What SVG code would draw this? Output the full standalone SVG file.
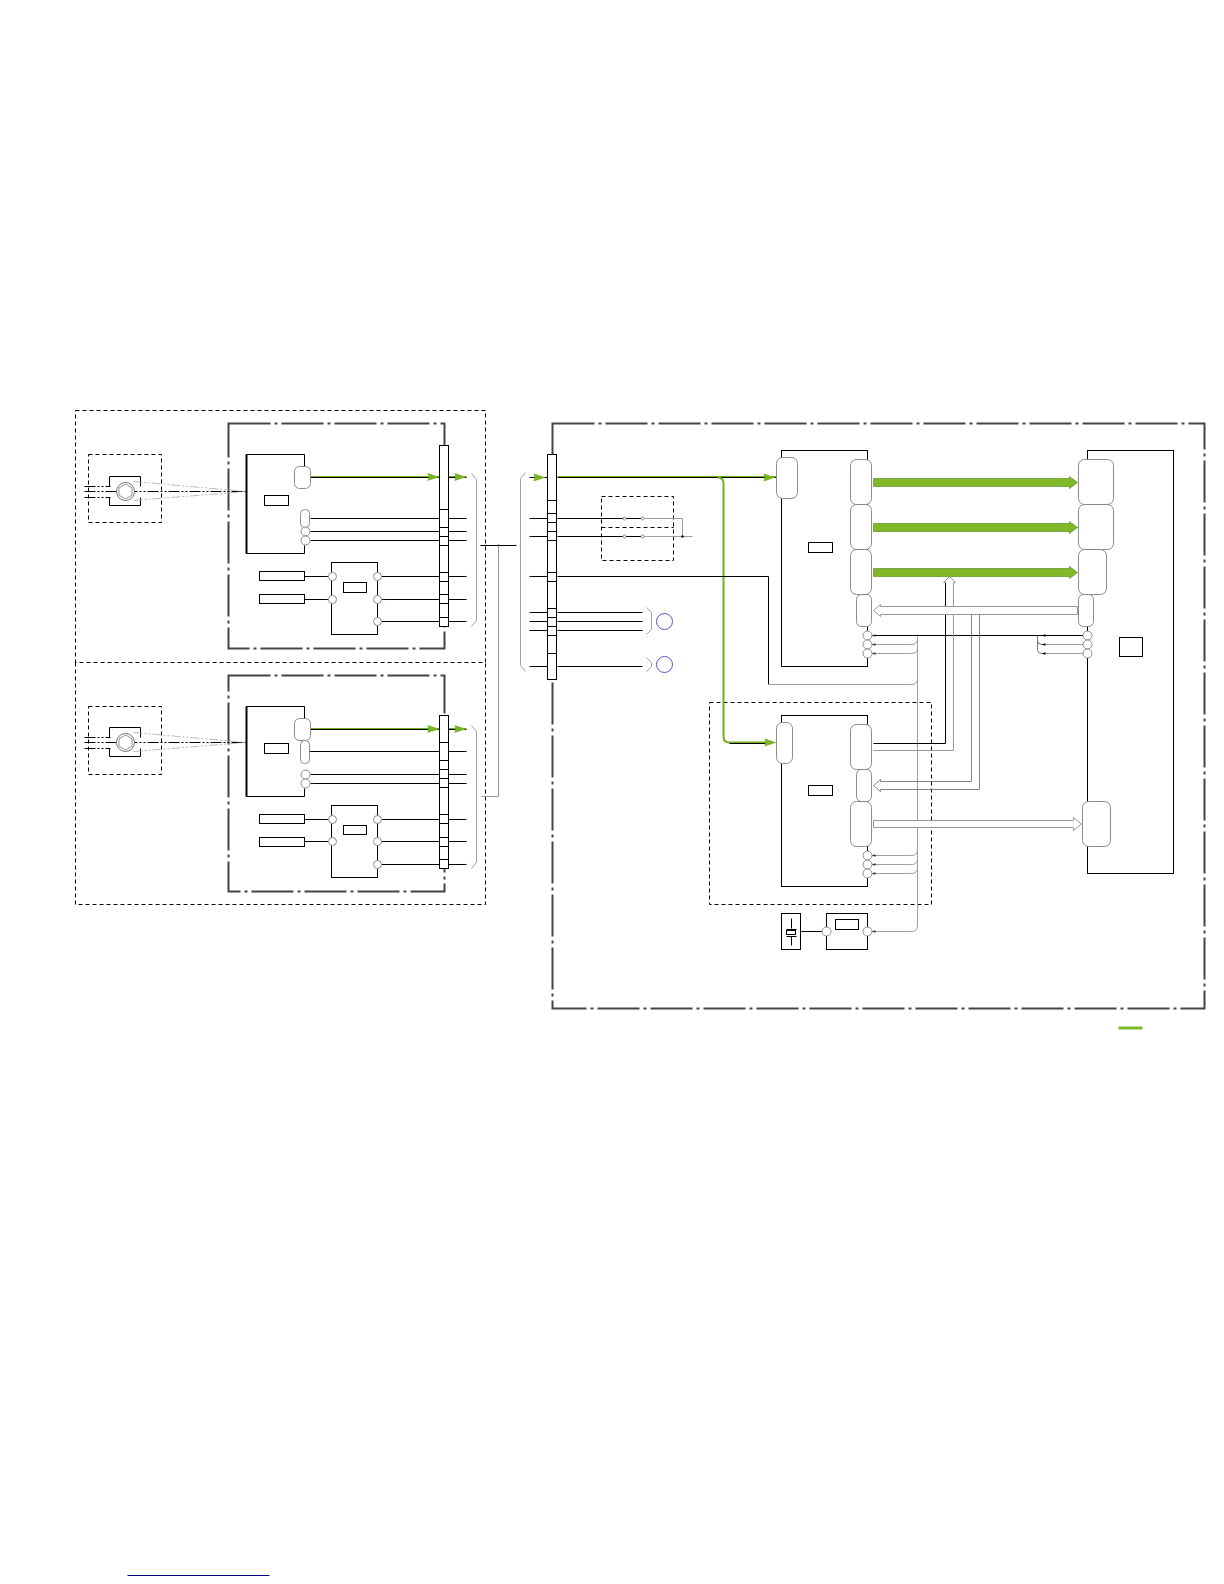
<svg xmlns="http://www.w3.org/2000/svg" width="1224" height="1584" viewBox="0 0 1224 1584">
<style>
.d{fill:none;stroke:#000;stroke-width:1;stroke-dasharray:4 3}
.b{fill:none;stroke:#444;stroke-width:2;stroke-dasharray:42 4 3 4}
.k{fill:#fff;stroke:#000;stroke-width:1}
.n{fill:none;stroke:#000;stroke-width:1}
.c{fill:#fff;stroke:#808080;stroke-width:.9}
.g{fill:none;stroke:#a0a0a0;stroke-width:1}
.h{fill:#fff;stroke:#999;stroke-width:1}
.dd{fill:none;stroke:#000;stroke-width:1;stroke-dasharray:11 2 2 2 2 2}
.cone{fill:none;stroke:#aaa;stroke-width:.8;stroke-dasharray:9 2 2 2 2 2}
.gr{fill:#80b828}
.bar{fill:#80b828;stroke:#5f8f2a;stroke-width:.7}
.bl{fill:none;stroke:#4b3fc4;stroke-width:.9}
.a{fill:#000}
</style>
<defs>
<marker id="t" markerWidth="4" markerHeight="4" refX="3" refY="1.5" orient="auto" markerUnits="userSpaceOnUse"><path d="M0 .7L3 1.5L0 2.3Z" fill="#222"/></marker>
<marker id="tg" markerWidth="13" markerHeight="9" refX="12" refY="4.500" orient="auto" markerUnits="userSpaceOnUse"><path d="M0 .5L12 4.500L0 8.500L1 4.500Z" fill="#78b428"/></marker>
<g id="camera">
<path class="n" d="M109-5V-15H140V-5M109 6V14H140V6"/>
<path class="dd" d="M84-5H110M84 0H246M84 6H110"/>
<path class="cone" d="M133-10L246 0M133 9L246 0"/>
<circle cx="125" cy="0" r="9" fill="#fff" stroke="#555" stroke-width=".8"/>
<path d="M125-7.5L131.5-3.700V3.700L125 7.500L118.500 3.700V-3.700Z" fill="#fff" stroke="#666" stroke-width=".7"/>
</g>
</defs>
<rect width="1224" height="1584" fill="#fff"/>
<g transform="translate(.5 .5)">
<g id="outer-frames">
<path class="d" d="M75 410H485V662H75ZM75 662V904H485V662"/>
<rect class="b" x="228" y="423" width="216" height="225"/>
<rect class="b" x="228" y="675" width="216" height="216"/>
<rect class="b" x="552" y="423" width="652" height="585"/>
<rect class="d" x="709" y="702" width="222" height="202"/>
<rect class="d" x="601" y="496" width="72" height="64"/>
<path class="d" d="M601 527H673"/>
<rect class="d" x="88" y="454" width="73" height="68"/>
<rect class="d" x="88" y="706" width="73" height="68"/>
</g>

<g id="connectors">
<path class="n" marker-end="url(#t)" d="M466 518H310"/>
<path class="n" marker-end="url(#t)" d="M466 531H310"/>
<path class="n" marker-end="url(#t)" d="M466 540H310"/>
<path class="n" marker-end="url(#t)" d="M304 576H328"/>
<path class="n" marker-end="url(#t)" d="M304 599H328"/>
<path class="n" marker-end="url(#t)" d="M381 576H466"/>
<path class="n" marker-end="url(#t)" d="M466 599H381"/>
<path class="n" marker-end="url(#t)" d="M381 621H466"/>
<path class="n" marker-end="url(#t)" d="M309 751H466"/>
<path class="n" marker-end="url(#t)" d="M466 774H310"/>
<path class="n" marker-end="url(#t)" d="M466 783H310"/>
<path class="n" marker-end="url(#t)" d="M304 819H328"/>
<path class="n" marker-end="url(#t)" d="M304 841H328"/>
<path class="n" marker-end="url(#t)" d="M381 819H466"/>
<path class="n" marker-end="url(#t)" d="M466 841H381"/>
<path class="n" marker-end="url(#t)" d="M381 864H466"/>
<path d="M310 477H439M448 477H466M310 729H439M448 729H466" fill="none" stroke="#000" stroke-width="1"/>
<path d="M310 476H439M448 476H466M310 728H439M448 728H466" fill="none" stroke="#6fae22" stroke-width="1"/>
<path d="M427 472.500L439 476.500L427 480.500L428 476.500ZM454 472.500L466 476.500L454 480.500L455 476.500ZM427 724.500L439 728.500L427 732.500L428 728.500ZM454 724.500L466 728.500L454 732.500L455 728.500Z" fill="#78b428"/>

<path class="g" d="M471 473L476 479V620L471 626M471 725L476 731V862L471 868"/>
<path class="n" d="M480 545H516"/>
<circle class="a" cx="498" cy="545" r="1"/>
<path d="M498 545V796H481" fill="none" stroke="#999" stroke-width="1"/>
<path class="g" d="M525 472L520 478V665L525 671M646 607L651 612V629L646 634M646 657L651 662V666L646 671"/>

<path d="M529 477H547" fill="none" stroke="#000"/>
<path d="M533 473L545 477L533 481L534 477Z" fill="#78b428"/>
<path d="M557 477H776" fill="none" stroke="#000" stroke-width="1"/>
<path d="M557 476H776" fill="none" stroke="#6fae22" stroke-width="1"/>
<path d="M717 477Q723 477 723 483V736Q723 742 729 742H766" fill="none" stroke="#6fae22" stroke-width="2"/>
<path d="M729 743H766" fill="none" stroke="#000" stroke-width="1"/>
<path d="M763 473L775 477L763 481L764 477Z" fill="#78b428"/>
<path d="M764 738L776 742L764 746L765 742Z" fill="#78b428"/>

<path class="n" marker-end="url(#t)" d="M547 518H529"/>
<path class="n" marker-end="url(#t)" d="M547 536H529"/>
<path class="n" marker-end="url(#t)" d="M547 576H529"/>
<path class="n" marker-end="url(#t)" d="M547 612H529"/>
<path class="n" marker-end="url(#t)" d="M529 621H547"/>
<path class="n" marker-end="url(#t)" d="M529 630H547"/>
<path class="n" marker-end="url(#t)" d="M547 666H529"/>
<path class="n" d="M557 518H642M557 536H642"/>
<path class="g" d="M642 518H682V536M642 536H692"/>
<circle class="a" cx="682" cy="536" r="1.200"/>
<path class="n" marker-end="url(#t)" d="M557 612H642"/>
<path class="n" marker-end="url(#t)" d="M642 621H557"/>
<path class="n" marker-end="url(#t)" d="M642 630H557"/>
<path class="n" marker-end="url(#t)" d="M642 666H557"/>
<path class="n" d="M557 576H768V684"/>

<path class="g" d="M768 684H911Q917 684 917 678V640M917 634V925Q917 931 911 931H872"/>
<path class="g" d="M872 644H911Q917 644 917 638M872 653H911Q917 653 917 647M872 855H911Q917 855 917 849M872 864H911Q917 864 917 858M872 873H911Q917 873 917 867"/>
<path class="n" d="M917 635H1083M917 635H871"/>
<path d="M1045 644H1041Q1037 644 1037 640V635M1045 653H1041Q1037 653 1037 649V640" fill="none" stroke="#555" stroke-width=".8"/>
<path class="g" d="M1042 644H1083M1042 653H1083"/>
<path d="M1045 642.700L1041 644L1045 645.300ZM1045 651.700L1041 653L1045 654.300ZM1045 633.700L1041 635L1045 636.300Z" fill="#000"/>
<path d="M875 633.700L871 635L875 636.300ZM875 642.700L871 644L875 645.300ZM875 651.700L871 653L875 654.300ZM875 853.700L871 855L875 856.300ZM875 862.700L871 864L875 865.300ZM875 871.700L871 873L875 874.300ZM875 929.700L871 931L875 932.300Z" fill="#333"/>
<path class="n" marker-end="url(#t)" d="M826 931H800"/>
</g>

<g id="buses">
<path d="M873 743H945V582" fill="none" stroke="#000" stroke-width="1"/>
<path d="M945 582H943L949 576L955 582H953V750H873" fill="none" stroke="#999" stroke-width="1"/>
<path class="h" d="M873 610L880 604V606H1077V614H880V616Z"/>
<path d="M971 614V781H880V779L873 785L880 791V789H979V614" fill="none" stroke="#777" stroke-width=".9"/>
<path class="h" d="M873 820H1073V817L1081 823.500L1073 830V827H873Z"/>
<path class="bar" d="M873 478H1069V476L1077 482L1069 488V486H873Z"/>
<path class="bar" d="M873 523H1069V521L1077 527L1069 533V531H873Z"/>
<path class="bar" d="M873 568H1069V566L1077 572L1069 578V576H873Z"/>
</g>

<g id="board1-sensor">
<use href="#camera" transform="translate(0,491)"/>
<path class="n" d="M304 454H246V553H304M304 454V466M304 553V545"/>
<path d="M246 454V553" stroke="#000" stroke-width="2"/>
<rect class="k" x="264" y="495" width="24" height="10"/>
<rect class="c" x="294" y="466" width="16" height="22" rx="5"/>
<rect class="c" x="300" y="509" width="9" height="18" rx="4"/>
<circle class="c" cx="305" cy="531" r="4.500"/>
<circle class="c" cx="305" cy="540" r="4.500"/>
</g>
<g id="board1-regulator">
<rect class="k" x="259" y="571" width="45" height="9"/>
<rect class="k" x="259" y="594" width="45" height="9"/>
<rect class="k" x="331" y="562" width="46" height="72"/>
<rect class="k" x="343" y="582" width="23" height="10"/>
<circle class="c" cx="332" cy="576" r="4"/><circle class="c" cx="332" cy="599" r="4"/>
<circle class="c" cx="377" cy="576" r="4"/><circle class="c" cx="377" cy="599" r="4"/><circle class="c" cx="377" cy="621" r="4"/>
</g>
<g id="board1-connector">
<rect class="k" x="439" y="445" width="9" height="181"/>
<path class="n" d="M439 509H448M439 527H448M439 536H448M439 545H448M439 572H448M439 581H448M439 594H448M439 603H448M439 617H448"/>
</g>

<g id="board2-sensor">
<use href="#camera" transform="translate(0,742)"/>
<path class="n" d="M304 706H246V796H304M304 706V718M304 796V788"/>
<path d="M246 706V796" stroke="#000" stroke-width="2"/>
<rect class="k" x="264" y="743" width="24" height="10"/>
<rect class="c" x="294" y="718" width="16" height="22" rx="5"/>
<rect class="c" x="300" y="740" width="9" height="23" rx="4"/>
<circle class="c" cx="305" cy="774" r="4.500"/>
<circle class="c" cx="305" cy="783" r="4.500"/>
</g>
<g id="board2-regulator">
<rect class="k" x="259" y="814" width="45" height="9"/>
<rect class="k" x="259" y="837" width="45" height="9"/>
<rect class="k" x="331" y="805" width="46" height="72"/>
<rect class="k" x="343" y="825" width="23" height="9"/>
<circle class="c" cx="332" cy="819" r="4"/><circle class="c" cx="332" cy="841" r="4"/>
<circle class="c" cx="377" cy="819" r="4"/><circle class="c" cx="377" cy="841" r="4"/><circle class="c" cx="377" cy="864" r="4"/>
</g>
<g id="board2-connector">
<rect class="k" x="439" y="715" width="9" height="153"/>
<path class="n" d="M439 742H448M439 760H448M439 769H448M439 778H448M439 787H448M439 814H448M439 823H448M439 837H448M439 846H448M439 859H448"/>
</g>

<g id="main-connector">
<rect class="k" x="547" y="454" width="9" height="225"/>
<path class="n" d="M547 500H556M547 513H556M547 522H556M547 531H556M547 540H556M547 572H556M547 581H556M547 608H556M547 617H556M547 626H556M547 635H556M547 653H556"/>
</g>
<g id="switches">
<circle class="c" cx="624" cy="518" r="1.500"/><circle class="c" cx="642" cy="518" r="1.500"/>
<circle class="c" cx="624" cy="536" r="1.500"/><circle class="c" cx="642" cy="536" r="1.500"/>
</g>
<g id="refs">
<circle class="bl" cx="664" cy="621" r="8"/>
<circle class="bl" cx="664" cy="664" r="8"/>
</g>

<g id="ic-upper">
<rect class="k" x="781" y="450" width="86" height="216"/>
<rect class="k" x="808" y="542" width="24" height="10"/>
<rect class="c" x="776" y="457" width="21" height="41" rx="6"/>
<rect class="c" x="850" y="459" width="21" height="45" rx="6"/>
<rect class="c" x="850" y="504" width="21" height="45" rx="6"/>
<rect class="c" x="850" y="549" width="21" height="45" rx="6"/>
<rect class="c" x="856" y="594" width="15" height="32" rx="5"/>
<circle class="c" cx="867" cy="635" r="4.500"/><circle class="c" cx="867" cy="644" r="4.500"/><circle class="c" cx="867" cy="653" r="4.500"/>
</g>
<g id="ic-lower">
<rect class="k" x="781" y="715" width="86" height="171"/>
<rect class="k" x="808" y="785" width="24" height="10"/>
<rect class="c" x="776" y="722" width="16" height="41" rx="6"/>
<rect class="c" x="850" y="724" width="21" height="45" rx="6"/>
<rect class="c" x="856" y="769" width="15" height="32" rx="5"/>
<rect class="c" x="850" y="801" width="21" height="45" rx="6"/>
<circle class="c" cx="867" cy="855" r="4.500"/><circle class="c" cx="867" cy="864" r="4.500"/><circle class="c" cx="867" cy="873" r="4.500"/>
</g>
<g id="ic-right">
<rect class="k" x="1087" y="450" width="86" height="423"/>
<rect class="k" x="1119" y="637" width="23" height="19"/>
<rect class="c" x="1078" y="459" width="35" height="45" rx="6"/>
<rect class="c" x="1078" y="504" width="35" height="45" rx="6"/>
<rect class="c" x="1078" y="549" width="28" height="45" rx="6"/>
<rect class="c" x="1078" y="594" width="15" height="32" rx="5"/>
<circle class="c" cx="1087" cy="635" r="4.500"/><circle class="c" cx="1087" cy="644" r="4.500"/><circle class="c" cx="1087" cy="653" r="4.500"/>
<rect class="c" x="1082" y="801" width="28" height="45" rx="6"/>
</g>
<g id="crystal">
<rect class="k" x="781" y="913" width="19" height="36"/>
<path class="n" d="M791 918V928M786 929H796M786 936H796M791 936V945"/>
<rect class="k" x="786" y="930" width="9" height="4"/>
</g>
<g id="oscillator">
<rect class="k" x="826" y="913" width="41" height="36"/>
<rect class="k" x="835" y="919" width="23" height="10"/>
<circle class="c" cx="826" cy="931" r="4.500"/><circle class="c" cx="867" cy="931" r="4.500"/>
</g>
<g id="legend">
<rect class="gr" x="1118" y="1026" width="24" height="3"/>
<path d="M127 1575H269" stroke="#000088" stroke-width="1"/>
</g>
</g>
</svg>
